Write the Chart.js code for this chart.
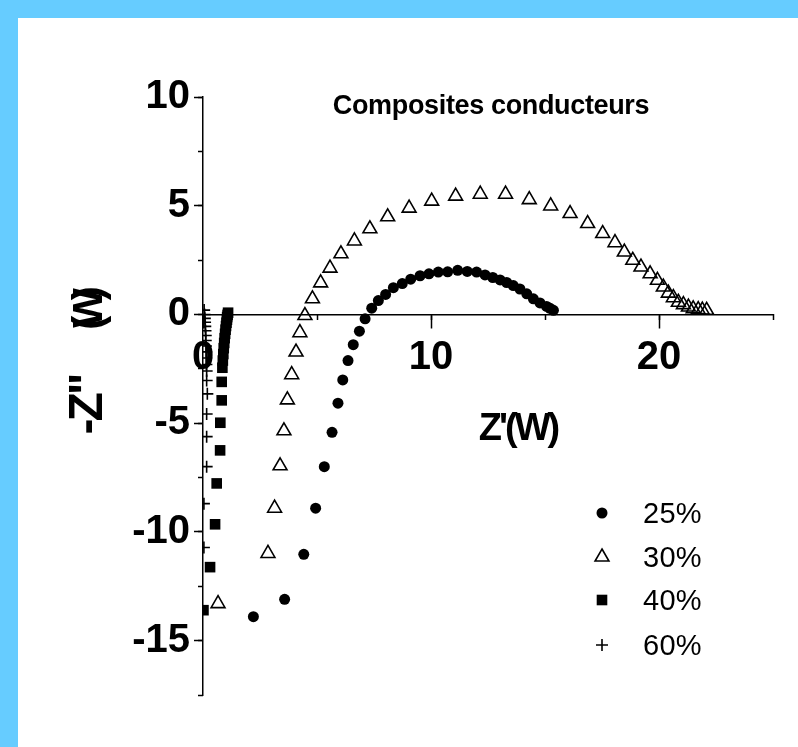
<!DOCTYPE html>
<html>
<head>
<meta charset="utf-8">
<title>Composites conducteurs</title>
<script src="https://cdn.jsdelivr.net/npm/chart.js@4.4.1/dist/chart.umd.min.js"></script>
<style>
  html, body { margin: 0; padding: 0; background: #66CCFF; overflow: hidden; }
  #sheet { position: absolute; left: 18px; top: 18px; right: 0; bottom: 0; background: #fff; }
  #plot { position: absolute; left: 0; top: 0; }
</style>
</head>
<body>
<div id="sheet"></div>
<canvas id="plot" width="798" height="747"></canvas>
<script>
// Impedance (Nyquist) data, Z' and -Z'' in ohms, one pair of arrays per composite
const x25 = [2.21, 3.58, 4.42, 4.94, 5.32, 5.66, 5.92, 6.13, 6.36, 6.59, 6.86, 7.11, 7.40, 7.69, 8.01,
  8.35, 8.74, 9.11, 9.52, 9.91, 10.32, 10.73, 11.17, 11.59, 12.00, 12.37, 12.71, 13.03, 13.32, 13.61,
  13.90, 14.20, 14.49, 14.78, 15.07, 15.22, 15.37];
const y25 = [-13.9, -13.1, -11.03, -8.91, -7.0, -5.42, -4.08, -3.01, -2.12, -1.39, -0.77, -0.2, 0.29, 0.64, 0.92,
  1.23, 1.42, 1.62, 1.78, 1.87, 1.95, 1.96, 2.03, 1.98, 1.95, 1.82, 1.70, 1.59, 1.47, 1.33,
  1.17, 0.95, 0.72, 0.53, 0.37, 0.28, 0.19];

const x30 = [0.66, 2.85, 3.14, 3.38, 3.55, 3.70, 3.89, 4.08, 4.25, 4.47, 4.80, 5.16, 5.57, 6.05, 6.64,
  7.32, 8.10, 9.04, 10.03, 11.08, 12.16, 13.27, 14.31, 15.25, 16.10, 16.87, 17.53, 18.07, 18.48, 18.85,
  19.21, 19.61, 19.93, 20.19, 20.41, 20.63, 20.85, 21.07, 21.29, 21.50, 21.72, 21.90, 22.09];
const y30 = [-13.3, -10.99, -8.91, -6.96, -5.35, -3.93, -2.77, -1.73, -0.84, -0.05, 0.72, 1.45, 2.13, 2.79, 3.38,
  3.94, 4.49, 4.89, 5.21, 5.44, 5.53, 5.53, 5.28, 4.99, 4.64, 4.18, 3.72, 3.30, 2.87, 2.49,
  2.18, 1.87, 1.57, 1.26, 0.98, 0.77, 0.56, 0.45, 0.34, 0.26, 0.22, 0.20, 0.19];

const x40 = [1.10, 1.08, 1.06, 1.05, 1.03, 1.01, 0.99, 0.97, 0.95, 0.93, 0.91, 0.89, 0.87, 0.85,
  0.82, 0.82, 0.76, 0.75, 0.60, 0.53, 0.31, 0.02];
const y40 = [0.08, -0.02, -0.12, -0.24, -0.38, -0.53, -0.70, -0.89, -1.09, -1.31, -1.55, -1.82, -2.12, -2.45,
  -3.1, -3.95, -4.98, -6.25, -7.77, -9.65, -11.62, -13.6];

const x60 = [0.05, 0.07, 0.08, 0.09, 0.10, 0.11, 0.12, 0.12, 0.13, 0.14, 0.14, 0.15, 0.16,
  0.16, 0.19, 0.16, 0.16, 0.16, 0.04, 0.04];
const y60 = [0.2, 0.0, -0.18, -0.36, -0.55, -0.75, -0.97, -1.2, -1.45, -1.72, -2.0, -2.3, -2.6,
  -3.04, -3.65, -4.58, -5.62, -7.0, -8.7, -10.72];

const seriesLabels = ['25%', '30%', '40%', '60%'];
const xTicksMajor = [0, 10, 20];
const yTicksMajor = [-15, -10, -5, 0, 5, 10];

const FONT = '"Liberation Sans", Arial, Helvetica, sans-serif';

const pairs = (xs, ys) => xs.map((x, i) => ({ x: x, y: ys[i] }));

const styles = [
  { pointStyle: 'circle', pointRadius: 5.5, backgroundColor: '#000', borderColor: '#000', borderWidth: 0 },
  { pointStyle: 'triangle', pointRadius: 8, backgroundColor: 'rgba(255,255,255,0)', borderColor: '#000', borderWidth: 1.6 },
  { pointStyle: 'rect', pointRadius: 7.5, backgroundColor: '#000', borderColor: '#000', borderWidth: 0 },
  { pointStyle: 'cross', pointRadius: 6, backgroundColor: '#000', borderColor: '#000', borderWidth: 1.6 }
];

const datasets = [pairs(x25, y25), pairs(x30, y30), pairs(x40, y40), pairs(x60, y60)].map((d, i) => ({
  label: seriesLabels[i],
  data: d,
  showLine: false,
  pointHoverRadius: styles[i].pointRadius,
  ...styles[i]
}));

function text(ctx, str, x, y, font, spacing, align) {
  ctx.save();
  ctx.font = font;
  ctx.letterSpacing = spacing + 'px';
  ctx.fillStyle = '#000';
  ctx.textAlign = align || 'left';
  ctx.textBaseline = 'alphabetic';
  ctx.fillText(str, x, y);
  ctx.restore();
}

// titles, axis names and the legend block on the right
const decorations = {
  id: 'decorations',
  afterDraw(chart) {
    const ctx = chart.ctx;
    text(ctx, 'Composites conducteurs', 491, 114, 'bold 27px ' + FONT, -0.35, 'center');
    text(ctx, "Z'(W)", 518, 440, 'bold 38px ' + FONT, -3, 'center');

    ctx.save();
    ctx.translate(102, 0);
    ctx.rotate(-Math.PI / 2);
    text(ctx, '-Z"', -405, 0, 'bold 48px ' + FONT, -3, 'center');
    text(ctx, '(W)', -314, 0, 'bold 42px ' + FONT, -12, 'center');
    ctx.restore();

    const rows = [513, 557, 600, 645];
    chart.data.datasets.forEach((ds, i) => {
      ctx.save();
      ctx.fillStyle = ds.backgroundColor;
      ctx.strokeStyle = ds.borderColor;
      ctx.lineWidth = ds.borderWidth;
      Chart.helpers.drawPoint(ctx, {
        pointStyle: ds.pointStyle,
        radius: ds.pointRadius,
        borderWidth: ds.borderWidth,
        rotation: 0
      }, 602, rows[i]);
      ctx.restore();
      text(ctx, ds.label, 643, rows[i] + 10, '29px ' + FONT, 0.3, 'left');
    });
  }
};

const tickFont = { family: FONT, size: 40, weight: 'bold' };

new Chart(document.getElementById('plot'), {
  type: 'scatter',
  data: { datasets: datasets },
  options: {
    responsive: false,
    animation: false,
    layout: { padding: { left: 103, top: 97, right: 25, bottom: 52 } },
    plugins: { legend: { display: false }, tooltip: { enabled: false }, title: { display: false } },
    scales: {
      x: {
        type: 'linear',
        position: { y: 0 },
        min: 0, max: 25,
        afterFit: s => { s.height = 0; },
        afterBuildTicks: s => { s.ticks = xTicksMajor.map(v => ({ value: v })); },
        ticks: { font: tickFont, color: '#000', padding: 7, maxRotation: 0 },
        grid: { drawOnChartArea: false, tickLength: 13, tickColor: '#000', tickWidth: 1.5 },
        border: { color: '#000', width: 1.5 }
      },
      xMinor: {
        type: 'linear',
        axis: 'x',
        position: { y: 0 },
        min: 0, max: 25,
        afterFit: s => { s.height = 0; },
        ticks: { stepSize: 5, display: false },
        grid: { drawOnChartArea: false, tickLength: 6, tickColor: '#000', tickWidth: 1.5 },
        border: { display: false }
      },
      y: {
        type: 'linear',
        position: 'left',
        min: -17.5, max: 10,
        afterFit: s => { s.width = 100; },
        afterBuildTicks: s => { s.ticks = yTicksMajor.map(v => ({ value: v })); },
        ticks: { font: tickFont, color: '#000', padding: 4 },
        grid: { drawOnChartArea: false, tickLength: 9, tickColor: '#000', tickWidth: 1.5 },
        border: { color: '#000', width: 1.5 }
      },
      yMinor: {
        type: 'linear',
        axis: 'y',
        position: { x: 0 },
        min: -17.5, max: 10,
        afterFit: s => { s.width = 0; },
        ticks: { stepSize: 2.5, display: false },
        grid: { drawOnChartArea: false, tickLength: 5, tickColor: '#000', tickWidth: 1.5 },
        border: { display: false }
      }
    }
  },
  plugins: [decorations]
});
</script>
</body>
</html>
